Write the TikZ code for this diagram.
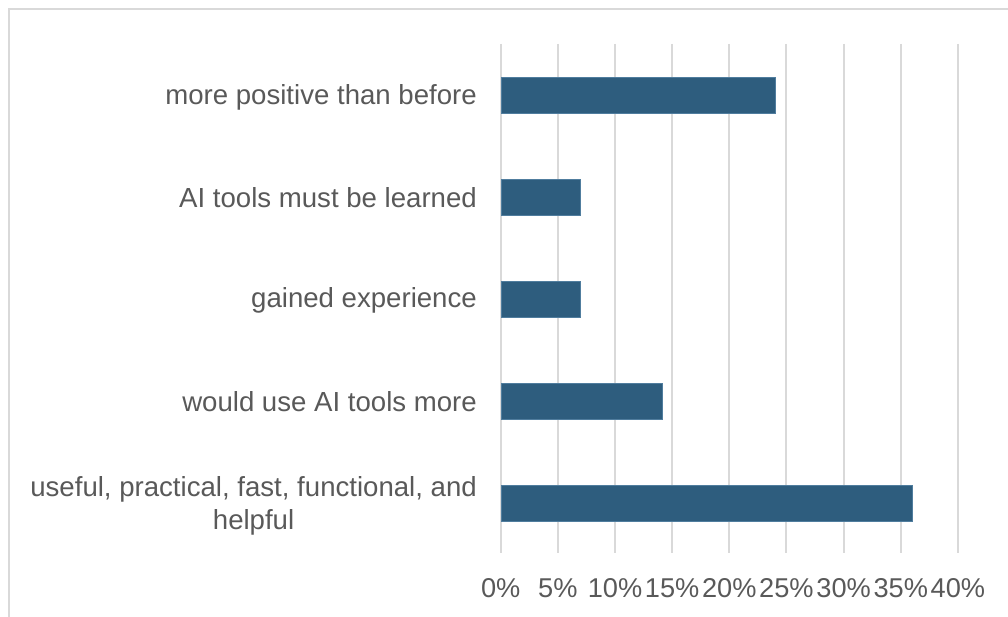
\documentclass[tikz,border=0pt]{standalone}
\usepackage{fontspec}
\setmainfont{Liberation Sans}
\definecolor{barblue}{RGB}{46,93,126}
\definecolor{baredge}{RGB}{80,125,158}
\definecolor{gridgray}{RGB}{217,217,217}
\definecolor{txtgray}{RGB}{89,89,89}
\begin{document}
\begin{tikzpicture}[x=1pt,y=-1pt,
  gridline/.style={draw=gridgray,line width=2pt},
  frameline/.style={draw=gridgray,line width=2pt},
  barbox/.style={fill=barblue,draw=baredge,line width=0.6pt},
  catlabel/.style={text=txtgray,font=\fontsize{27.6}{33}\selectfont,anchor=east,align=center,inner sep=0pt},
  ticklabel/.style={text=txtgray,font=\fontsize{27.2}{33}\selectfont,anchor=center,inner sep=0pt}]
\useasboundingbox (0,0) rectangle (1008,617);
% frame
\draw[frameline] (9,617) -- (9,9) -- (1008,9);
% gridlines and tick labels
\foreach \i/\lab in {0/0\%,1/5\%,2/10\%,3/15\%,4/20\%,5/25\%,6/30\%,7/35\%,8/40\%}{
  \draw[gridline] ({500.7+\i*57.15},44) -- ({500.7+\i*57.15},553);
  \node[ticklabel] (t\i) at ({500.7+\i*57.15},588) {\lab};
}
% bars
\foreach \n/\v/\c in {a/24/95,b/7/197,c/7/299.5,d/14.1/401,e/36/503}{
  \path[barbox] (501.5,{\c-18}) rectangle ({500.7+\v*11.43},{\c+18});
}
% category labels
\node[catlabel] (la) at (477,97) {more positive than before};
\node[catlabel] (lb) at (477,198) {AI tools must be learned};
\node[catlabel] (lc) at (477,300) {gained experience};
\node[catlabel] (ld) at (477,402) {would use AI tools more};
\node[catlabel] (le) at (477,506) {useful, practical, fast, functional, and\\helpful};
\end{tikzpicture}
\end{document}
